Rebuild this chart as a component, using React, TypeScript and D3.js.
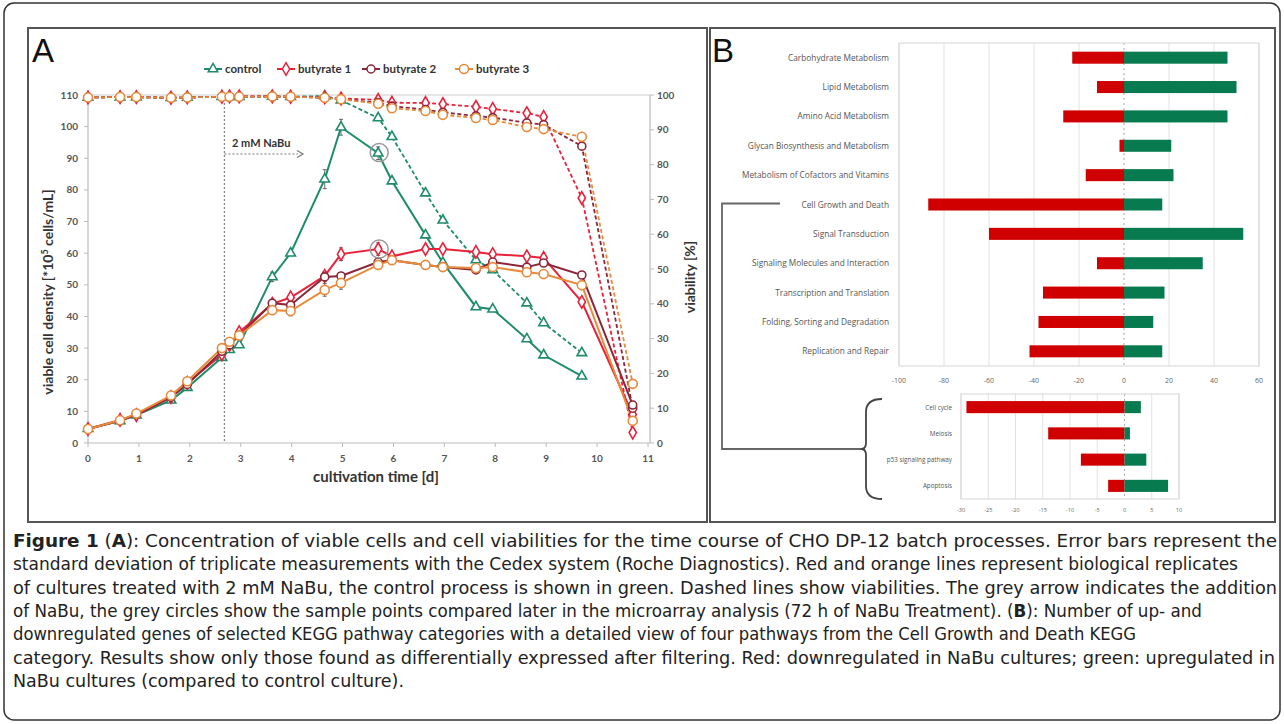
import React from 'react';
import * as d3 from 'd3';

// ---------- Panel A data ----------
const days = [0, 0.63, 0.95, 1.63, 1.95, 2.63, 2.78, 2.97, 3.62, 3.98, 4.65, 4.97, 5.7, 5.97, 6.63, 6.97, 7.62, 7.95, 8.62, 8.95, 9.7, 10.7];
const controlDensity = [4.5, 7, 8.8, 13.5, 17.5, 27, 29.5, 31, 52.5, 60, 83.4, 99.8, 91.6, 82.8, 65.7, 57, 43, 42.3, 32.9, 27.8, 21.1, null];
const b1Density = [4.4, 7.3, 8.8, 14.5, 19, 28, 31, 35, 44, 46, 52.8, 59.7, 61.3, 59, 61.3, 61.3, 60.4, 59.7, 59, 58.5, 44.6, 9];
const b2Density = [4.4, 7, 9, 14.5, 18.5, 29, 31, 34, 44.2, 43.6, 52.5, 52.8, 57.2, 57.8, 56.3, 55.6, 54.7, 57.2, 55.6, 56.9, 53.1, 12];
const b3Density = [4.4, 7.2, 9.3, 15, 19.5, 30, 32, 34, 42, 41.7, 48.4, 50.6, 56.3, 57.8, 56.3, 55.6, 55.3, 55.6, 54, 53.4, 49.9, 7];
const controlDensityErr = [null, null, null, null, null, null, null, null, 1.5, null, 3, 2.5, 2, null, null, null, null, null, null, null, null, null];
const b1DensityErr = [null, null, null, null, null, null, null, null, null, null, 1.5, 2, 2, null, null, null, null, null, null, null, null, null];
const b2DensityErr = [null, null, null, null, null, null, null, null, null, null, 1.5, null, null, null, null, null, null, null, null, null, null, null];
const b3DensityErr = [null, null, null, null, null, null, null, null, null, 1.5, 2, 2, null, null, null, null, null, null, null, null, null, null];
const controlViability = [99.3, 99.4, 99.4, 99.2, 99.3, 99.5, 99.5, 99.5, 99.6, 99.5, 99.7, 98.5, 93.4, 88, 71.8, 64, 52.6, 49.7, 40.2, 34.5, 25.9, null];
const b1Viability = [99.3, 99.4, 99.4, 99.2, 99.3, 99.5, 99.6, 99.6, 99.6, 99.5, 99.3, 99, 98.6, 97.8, 97.7, 97.4, 96.6, 96, 94.8, 93.7, 70.4, 3];
const b2Viability = [99.3, 99.4, 99.4, 99.2, 99.3, 99.5, 99.5, 99.5, 99.6, 99.5, 99.2, 98.8, 97.8, 96.8, 95.8, 95, 94, 93.5, 92, 91.5, 85.3, 10];
const b3Viability = [99.3, 99.4, 99.4, 99.2, 99.3, 99.5, 99.5, 99.5, 99.6, 99.5, 99.2, 98.8, 97.5, 96.2, 95.4, 94.3, 93.4, 92.8, 90.8, 90.2, 88, 17];
const seriesNames = ['control', 'butyrate 1', 'butyrate 2', 'butyrate 3'];
const densityTicks = [0, 10, 20, 30, 40, 50, 60, 70, 80, 90, 100, 110];
const viabilityTicks = [0, 10, 20, 30, 40, 50, 60, 70, 80, 90, 100];
const dayTicks = [0, 1, 2, 3, 4, 5, 6, 7, 8, 9, 10, 11];
const nabuDay = 2.68;
const sampleCircles = [[5.72, 91.8], [5.72, 61.3]];

// ---------- Panel B data ----------
const keggCategories = ['Carbohydrate Metabolism', 'Lipid Metabolism', 'Amino Acid Metabolism', 'Glycan Biosynthesis and Metabolism', 'Metabolism of Cofactors and Vitamins', 'Cell Growth and Death', 'Signal Transduction', 'Signaling Molecules and Interaction', 'Transcription and Translation', 'Folding, Sorting and Degradation', 'Replication and Repair'];
const keggDown = [-23, -12, -27, -2, -17, -87, -60, -12, -36, -38, -42];
const keggUp = [46, 50, 46, 21, 22, 17, 53, 35, 18, 13, 17];
const keggTicks = [-100, -80, -60, -40, -20, 0, 20, 40, 60];
const insetCategories = ['Cell cycle', 'Meiosis', 'p53 signaling pathway', 'Apoptosis'];
const insetDown = [-29, -14, -8, -3];
const insetUp = [3, 1, 4, 8];
const insetTicks = [-30, -25, -20, -15, -10, -5, 0, 5, 10];

// ---------- Caption ----------
const captionLines = [
  [['Figure 1', true], [' (', false], ['A', true], ['): Concentration of viable cells and cell viabilities for the time course of CHO DP-12 batch processes. Error bars represent the', false]],
  [['standard deviation of triplicate measurements with the Cedex system (Roche Diagnostics). Red and orange lines represent biological replicates', false]],
  [['of cultures treated with 2 mM NaBu, the control process is shown in green. Dashed lines show viabilities. The grey arrow indicates the addition', false]],
  [['of NaBu, the grey circles show the sample points compared later in the microarray analysis (72 h of NaBu Treatment). (', false], ['B', true], ['): Number of up- and', false]],
  [['downregulated genes of selected KEGG pathway categories with a detailed view of four pathways from the Cell Growth and Death KEGG', false]],
  [['category. Results show only those found as differentially expressed after filtering. Red: downregulated in NaBu cultures; green: upregulated in', false]],
  [['NaBu cultures (compared to control culture).', false]],
];
const captionWidths = [1264, 1225, 1264, 1189, 1123, 1262, 391];

const GREEN = '#1e8c6b';
const RED = '#e8223a';
const MAROON = '#8c2639';
const ORANGE = '#e88a3c';
const BAR_RED = '#d10000';
const BAR_GREEN = '#077a4f';
const fontA = "Lato, 'Open Sans', sans-serif";
const fontB = "'Open Sans', Lato, sans-serif";

export default function App() {
  const xA = d3.scaleLinear().domain([0, 11]).range([88, 648]);
  const yL = d3.scaleLinear().domain([0, 110]).range([443, 95]);
  const yR = d3.scaleLinear().domain([0, 100]).range([443, 95]);

  const series = [
    { name: seriesNames[0], color: GREEN, dens: controlDensity, err: controlDensityErr, via: controlViability, sym: d3.symbolTriangle, size: 40 },
    { name: seriesNames[1], color: RED, dens: b1Density, err: b1DensityErr, via: b1Viability, sym: d3.symbolDiamond, size: 46 },
    { name: seriesNames[2], color: MAROON, dens: b2Density, err: b2DensityErr, via: b2Viability, sym: d3.symbolCircle, size: 50 },
    { name: seriesNames[3], color: ORANGE, dens: b3Density, err: b3DensityErr, via: b3Viability, sym: d3.symbolCircle, size: 64 },
  ];

  const mkPts = (vals: (number | null)[]) => days.map((d, i) => [d, vals[i]] as [number, number | null]).filter(p => p[1] != null) as [number, number][];
  const lineL = d3.line<[number, number]>().x(d => xA(d[0])).y(d => yL(d[1]));
  const lineR = d3.line<[number, number]>().x(d => xA(d[0])).y(d => yR(d[1]));

  // Panel B scales
  const xB = d3.scaleLinear().domain([-100, 60]).range([899, 1259]);
  const yB = d3.scaleBand().domain(keggCategories).range([43, 366]).paddingInner(0.59).paddingOuter(0.295);
  const xI = d3.scaleLinear().domain([-30, 10]).range([961, 1179]);
  const yI = d3.scaleBand().domain(insetCategories).range([394, 499]).paddingInner(0.54).paddingOuter(0.27);

  const symbolPath = (sym: any, size: number) => d3.symbol().type(sym).size(size)() as string;

  return (
    <svg width={1284} height={724} style={{ position: 'absolute', left: 0, top: 0, background: '#fff' }}>
      <rect x={0} y={0} width={1284} height={724} fill="#fff" />
      {/* outer frame */}
      <rect x={4} y={3} width={1276} height={717} rx={10} fill="none" stroke="#333" strokeWidth={1.5} />
      {/* panel frames */}
      <rect x={28} y={28} width={679} height={494} fill="none" stroke="#555" strokeWidth={2} />
      <rect x={710} y={28} width={565} height={494} fill="none" stroke="#555" strokeWidth={2} />

      {/* ================= Panel A ================= */}
      <text x={32} y={62} fontFamily="'Liberation Sans', Arial, sans-serif" fontSize={33} fill="#111">A</text>

      {/* plot area top border */}
      <line x1={88} x2={650} y1={95} y2={95} stroke="#ccc" strokeWidth={1} />
      {/* left axis */}
      <line x1={88} x2={88} y1={95} y2={443} stroke="#bbb" strokeWidth={1.2} />
      {densityTicks.map(t => (
        <g key={'lt' + t}>
          <line x1={84} x2={88} y1={yL(t)} y2={yL(t)} stroke="#bbb" />
          <text x={78} y={yL(t) + 3.5} textAnchor="end" fontFamily={fontA} fontWeight={700} fontSize={10} fill="#555">{t}</text>
        </g>
      ))}
      {/* bottom axis */}
      <line x1={88} x2={650} y1={443} y2={443} stroke="#bbb" strokeWidth={1.2} />
      {dayTicks.map(t => (
        <g key={'bt' + t}>
          <line x1={xA(t)} x2={xA(t)} y1={443} y2={447} stroke="#bbb" />
          <text x={xA(t)} y={462} textAnchor="middle" fontFamily={fontA} fontWeight={700} fontSize={10} fill="#555">{t}</text>
        </g>
      ))}
      {/* right axis */}
      <line x1={650} x2={650} y1={95} y2={443} stroke="#bbb" strokeWidth={1.2} />
      {viabilityTicks.map(t => (
        <g key={'rt' + t}>
          <line x1={650} x2={654} y1={yR(t)} y2={yR(t)} stroke="#bbb" />
          <text x={657} y={yR(t) + 3.5} textAnchor="start" fontFamily={fontA} fontWeight={700} fontSize={10} fill="#555">{t}</text>
        </g>
      ))}
      {/* axis titles */}
      <text transform="translate(53,292) rotate(-90)" textAnchor="middle" fontFamily={fontA} fontWeight={700} fontSize={14} fill="#333">
        viable cell density [*10<tspan fontSize={9} dy={-5}>5</tspan><tspan dy={5}> cells/mL]</tspan>
      </text>
      <text transform="translate(695,277) rotate(-90)" textAnchor="middle" fontFamily={fontA} fontWeight={700} fontSize={14} fill="#333">viability [%]</text>
      <text x={376} y={482} textAnchor="middle" fontFamily={fontA} fontWeight={700} fontSize={15} fill="#333">cultivation time [d]</text>

      {/* NaBu addition */}
      <line x1={xA(nabuDay)} x2={xA(nabuDay)} y1={95} y2={443} stroke="#888" strokeWidth={1.3} strokeDasharray="2,2" />
      <text x={232} y={147} fontFamily={fontA} fontWeight={700} fontSize={11} fill="#333">2 mM NaBu</text>
      <line x1={xA(nabuDay)} x2={298} y1={154} y2={154} stroke="#777" strokeWidth={1.2} strokeDasharray="2,2" />
      <path d="M297,150.5 L303,154 L297,157.5" fill="none" stroke="#777" strokeWidth={1.2} />

      {/* viability (dashed) lines */}
      {series.map(s => (
        <path key={'vl' + s.name} d={lineR(mkPts(s.via)) || ''} fill="none" stroke={s.color} strokeWidth={1.8} strokeDasharray="4,2.5" />
      ))}
      {/* density (solid) lines */}
      {series.map(s => (
        <path key={'dl' + s.name} d={lineL(mkPts(s.dens)) || ''} fill="none" stroke={s.color} strokeWidth={2} />
      ))}
      {/* error bars */}
      {series.map(s => (
        <g key={'eb' + s.name}>
          {days.map((d, i) => {
            const e = s.err[i];
            const v = s.dens[i];
            if (e == null || v == null) return null;
            const x = xA(d);
            return (
              <g key={i}>
                <line x1={x} x2={x} y1={yL(v + e)} y2={yL(v - e)} stroke="#444" strokeWidth={0.8} />
                <line x1={x - 2} x2={x + 2} y1={yL(v + e)} y2={yL(v + e)} stroke="#444" strokeWidth={0.8} />
                <line x1={x - 2} x2={x + 2} y1={yL(v - e)} y2={yL(v - e)} stroke="#444" strokeWidth={0.8} />
              </g>
            );
          })}
        </g>
      ))}
      {/* markers */}
      {series.map(s => (
        <g key={'mk' + s.name}>
          {mkPts(s.via).map((p, i) => (
            <path key={'v' + i} d={symbolPath(s.sym, s.size)} transform={`translate(${xA(p[0])},${yR(p[1])})`} fill="#fff" stroke={s.color} strokeWidth={1.6} />
          ))}
          {mkPts(s.dens).map((p, i) => (
            <path key={'d' + i} d={symbolPath(s.sym, s.size)} transform={`translate(${xA(p[0])},${yL(p[1])})`} fill="#fff" stroke={s.color} strokeWidth={1.6} />
          ))}
        </g>
      ))}
      {/* sample circles */}
      {sampleCircles.map((c, i) => (
        <circle key={'sc' + i} cx={xA(c[0])} cy={yL(c[1])} r={9} fill="none" stroke="#999" strokeWidth={1.5} />
      ))}

      {/* legend */}
      {series.map((s, i) => {
        const lx = [204, 277, 362, 455][i];
        return (
          <g key={'lg' + s.name}>
            <line x1={lx} x2={lx + 18} y1={69} y2={69} stroke={s.color} strokeWidth={2} />
            <path d={symbolPath(s.sym, s.size)} transform={`translate(${lx + 9},69)`} fill="#fff" stroke={s.color} strokeWidth={1.5} />
            <text x={lx + 21} y={73} fontFamily={fontA} fontWeight={700} fontSize={11.5} fill="#333">{s.name}</text>
          </g>
        );
      })}

      {/* ================= Panel B ================= */}
      <text x={712} y={62} fontFamily="'Liberation Sans', Arial, sans-serif" fontSize={33} fill="#111">B</text>

      {/* main plot */}
      {keggTicks.map(t => (
        <line key={'kg' + t} x1={xB(t)} x2={xB(t)} y1={43} y2={366} stroke={t === 0 ? '#aaa' : '#e2e2e2'} strokeWidth={1} strokeDasharray={t === 0 ? '2,3' : undefined} />
      ))}
      <rect x={899} y={43} width={360} height={323} fill="none" stroke="#d5d5d5" strokeWidth={1} />
      {keggCategories.map((c, i) => (
        <g key={'kb' + c}>
          <rect x={xB(keggDown[i])} y={yB(c)!} width={xB(0) - xB(keggDown[i])} height={yB.bandwidth()} fill={BAR_RED} />
          <rect x={xB(0)} y={yB(c)!} width={xB(keggUp[i]) - xB(0)} height={yB.bandwidth()} fill={BAR_GREEN} />
          <text x={889} y={yB(c)! + yB.bandwidth() / 2 + 3} textAnchor="end" fontFamily={fontB} fontSize={8.3} fill="#555">{c}</text>
        </g>
      ))}
      {keggTicks.map(t => (
        <text key={'kt' + t} x={xB(t)} y={383} textAnchor="middle" fontFamily={fontB} fontSize={7} fill="#666">{t}</text>
      ))}

      {/* inset plot */}
      {insetTicks.map(t => (
        <line key={'ig' + t} x1={xI(t)} x2={xI(t)} y1={394} y2={499} stroke={t === 0 ? '#aaa' : '#e2e2e2'} strokeWidth={1} strokeDasharray={t === 0 ? '2,3' : undefined} />
      ))}
      <rect x={961} y={394} width={218} height={105} fill="none" stroke="#d5d5d5" strokeWidth={1} />
      {insetCategories.map((c, i) => (
        <g key={'ib' + c}>
          <rect x={xI(insetDown[i])} y={yI(c)!} width={xI(0) - xI(insetDown[i])} height={yI.bandwidth()} fill={BAR_RED} />
          <rect x={xI(0)} y={yI(c)!} width={xI(insetUp[i]) - xI(0)} height={yI.bandwidth()} fill={BAR_GREEN} />
          <text x={952} y={yI(c)! + yI.bandwidth() / 2 + 2.5} textAnchor="end" fontFamily={fontB} fontSize={6.3} fill="#555">{c}</text>
        </g>
      ))}
      {insetTicks.map(t => (
        <text key={'it' + t} x={xI(t)} y={512} textAnchor="middle" fontFamily={fontB} fontSize={5.5} fill="#666">{t}</text>
      ))}

      {/* bracket connector */}
      <path d="M780,203.5 L722,203.5 L722,449 L865,449" fill="none" stroke="#666" strokeWidth={1.8} />
      <path d="M882,399 Q866,399 866,412 L866,443 Q866,449 861,449 Q866,449 866,455 L866,486 Q866,499 882,499" fill="none" stroke="#444" strokeWidth={1.8} />

      {/* ================= Caption ================= */}
      {captionLines.map((ln, i) => (
        <text key={'cap' + i} x={13} y={547 + i * 23.3} fontFamily="'Liberation Sans Narrow', 'DejaVu Sans Condensed', 'Open Sans', sans-serif" fontSize={17.5} fill="#222"
          textLength={captionWidths[i]} lengthAdjust="spacingAndGlyphs">
          {ln.map((seg, j) => (
            <tspan key={j} fontWeight={seg[1] ? 700 : 400}>{seg[0] as string}</tspan>
          ))}
        </text>
      ))}
    </svg>
  );
}
